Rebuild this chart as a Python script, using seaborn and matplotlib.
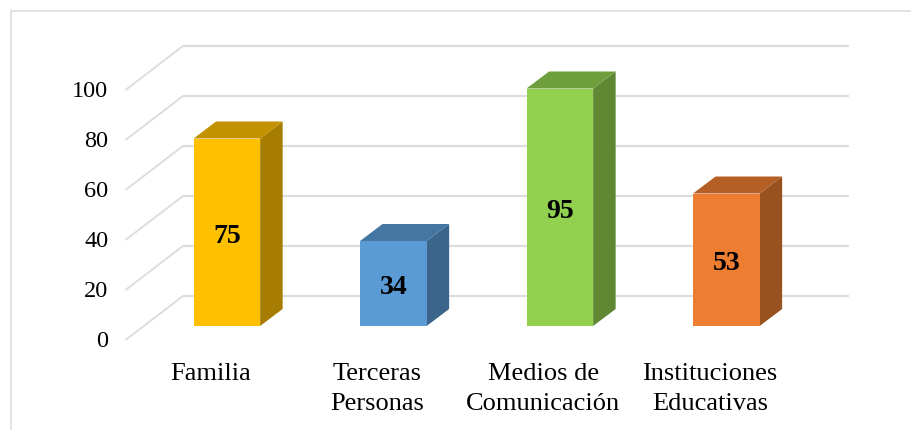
import numpy as np
import pandas as pd
import matplotlib
matplotlib.use('Agg')
import matplotlib.pyplot as plt
import seaborn as sns
from matplotlib.lines import Line2D
from matplotlib.patches import Polygon
from matplotlib.transforms import ScaledTranslation

categorias = ['Familia', 'Terceras\nPersonas', 'Medios de\nComunicación', 'Instituciones\nEducativas']
valores = [75, 34, 95, 53]
colores = ['#FFC000', '#5B9BD5', '#92D050', '#ED7D31']
ticks = [0, 20, 40, 60, 80, 100]

W, H = 912, 430
GRIS = '#DDDDDD'

sns.set_theme(style='white')
plt.rcParams['font.family'] = ['Liberation Serif', 'DejaVu Serif']

fig, ax = plt.subplots(figsize=(W / 100, H / 100), dpi=100)
# plano frontal de las barras, en pixeles
fig.subplots_adjust(left=143.6 / W, right=809.6 / W, bottom=(H - 326) / H, top=(H - 76) / H)

df = pd.DataFrame({'categoria': categorias, 'valor': valores})
sns.barplot(data=df, x='categoria', y='valor', hue='categoria', palette=colores,
            saturation=1, width=0.4, legend=False, ax=ax, zorder=3, linewidth=0, edgecolor='none')
ax.set_xlim(-0.5, 3.5)
ax.set_ylim(0, 100)
ax.patch.set_visible(False)
sns.despine(ax=ax, left=True, bottom=True)
ax.set_xlabel('')
ax.set_ylabel('')

px_x = 666 / 4
px_y = 2.5
# profundidad de las barras y de las paredes, en unidades de datos
prof_x, prof_y = 22.5 / px_x, 17 / px_y
fondo_x, fondo_y = 39.4 / px_x, 30 / px_y
frente_x, frente_y = -17.6 / px_x, -13.6 / px_y

for t in ticks:
    ax.plot([-0.5 + frente_x, -0.5 + fondo_x], [t + frente_y, t + fondo_y], color=GRIS,
            lw=1.4, clip_on=False, zorder=1, solid_capstyle='round')
    ax.plot([-0.5 + fondo_x, 3.5 + fondo_x], [t + fondo_y, t + fondo_y], color=GRIS,
            lw=1.6, clip_on=False, zorder=1, solid_capstyle='butt')

for bar, col in zip(ax.patches, colores):
    x0, x1, v = bar.get_x(), bar.get_x() + bar.get_width(), bar.get_height()
    c = np.array(matplotlib.colors.to_rgb(col))
    ax.add_patch(Polygon([(x1, 0), (x1 + prof_x, prof_y), (x1 + prof_x, v + prof_y), (x1, v)],
                         fc=c * 0.65, ec='none', clip_on=False, zorder=2))
    ax.add_patch(Polygon([(x0, v), (x0 + prof_x, v + prof_y), (x1 + prof_x, v + prof_y), (x1, v)],
                         fc=c * 0.76, ec='none', clip_on=False, zorder=2))

for cont in ax.containers:
    for ann in ax.bar_label(cont, label_type='center', fontsize=20, fontweight='bold', color='black'):
        ann.xyann = (0, -3)

ax.set_yticks(ticks)
ax.tick_params(axis='y', length=0, pad=25.4, labelsize=17.5, labelcolor='black')
ax.tick_params(axis='x', length=0, pad=26.5, labelsize=19, labelcolor='black')
ax.set_xticks(range(4))
ax.set_xticklabels(categorias, linespacing=1.48, ha='center')

baja = ScaledTranslation(0, -13 / 100, fig.dpi_scale_trans)
for lab in ax.get_yticklabels():
    lab.set_transform(lab.get_transform() + baja)
izq = ScaledTranslation(-16.5 / 100, 0, fig.dpi_scale_trans)
for lab in ax.get_xticklabels():
    lab.set_transform(lab.get_transform() + izq)

# borde del grafico
fig.add_artist(Line2D([11 / W, 11 / W], [0, 1 - 11 / H], color=GRIS, lw=1.2))
fig.add_artist(Line2D([11 / W, 1], [1 - 11 / H, 1 - 11 / H], color=GRIS, lw=1.2))

fig.savefig('out.png', dpi=100, facecolor='white')
